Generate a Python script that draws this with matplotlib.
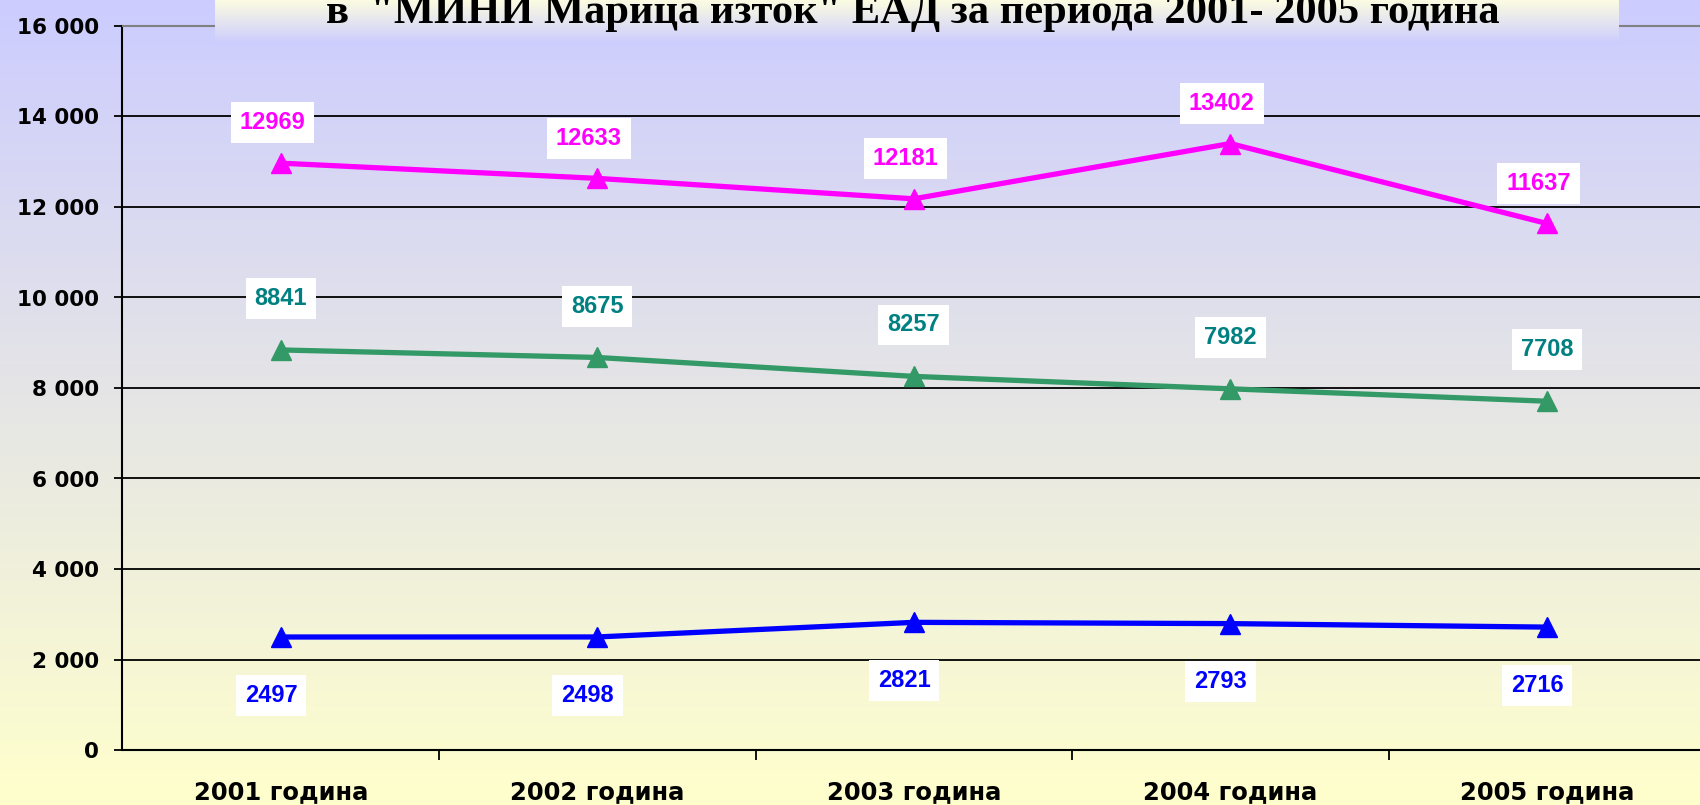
import numpy as np
import matplotlib.pyplot as plt
from matplotlib.ticker import FuncFormatter, FixedLocator

# данни от графиката
categories = ['2001 година', '2002 година', '2003 година', '2004 година', '2005 година']
series_top = [12969, 12633, 12181, 13402, 11637]
series_mid = [8841, 8675, 8257, 7982, 7708]
series_low = [2497, 2498, 2821, 2793, 2716]
y_ticks = [0, 2000, 4000, 6000, 8000, 10000, 12000, 14000, 16000]
title = 'в  "МИНИ Марица изток" ЕАД за периода 2001- 2005 година'

W, H = 1700, 805
fig = plt.figure(figsize=(W / 100, H / 100), dpi=100)

# фон - вертикален градиент
bg = fig.add_axes([0, 0, 1, 1], zorder=-10)
c_top = np.array([204, 204, 255]) / 255
c_bot = np.array([255, 255, 204]) / 255
t = np.linspace(0, 1, 256)[:, None]
grad = c_top * (1 - t) + c_bot * t
bg.imshow(grad[:, None, :], aspect='auto', extent=[0, 1, 0, 1])
bg.axis('off')

# основна графика
ax = fig.add_axes([122.5 / W, 55 / H, (1705 - 122.5) / W, 724 / H], zorder=1)
ax.set_facecolor('none')
x = np.arange(len(categories))

for yv in y_ticks[1:-1]:
    ax.axhline(yv, color='black', lw=1.3, zorder=1)

ax.plot(x, series_top, color='#FF00FF', lw=3.8, marker='^', ms=14, zorder=3)
ax.plot(x, series_mid, color='#339966', lw=3.8, marker='^', ms=14, zorder=3)
ax.plot(x, series_low, color='#0000FF', lw=3.8, marker='^', ms=14, zorder=3)

def add_labels(vals, color, dx, dy):
    for xi, v in zip(x, vals):
        ax.annotate(str(v), (xi, v), xytext=(dx, dy), textcoords='offset points',
                    ha='center', va='center', color=color, fontweight='bold',
                    fontsize=17, family='Liberation Sans', zorder=4,
                    bbox=dict(boxstyle='square,pad=0.38', fc='white', ec='none'))

add_labels(series_top, '#FF00FF', -6, 29)
add_labels(series_mid, '#008080', 0, 37)
add_labels(series_low, '#0000FF', -7, -42)

ax.set_xlim(-0.5, len(categories) - 0.5)
ax.set_ylim(y_ticks[0], y_ticks[-1])
ax.set_xticks(x)
ax.set_xticklabels(categories)
ax.xaxis.set_minor_locator(FixedLocator(x[:-1] + 0.5))
ax.tick_params(axis='x', which='major', length=0, pad=22)
ax.tick_params(axis='x', which='minor', length=7, width=1.3, direction='out')
ax.set_yticks(y_ticks)
ax.yaxis.set_major_formatter(FuncFormatter(lambda v, p: f'{int(v):,}'.replace(',', ' ')))
ax.tick_params(axis='y', length=6, width=1.3, direction='out', pad=11)
for lab in ax.get_xticklabels():
    lab.set_fontweight('bold')
    lab.set_fontsize(17.5)
    lab.set_family('DejaVu Sans')
for lab in ax.get_yticklabels():
    lab.set_fontweight('bold')
    lab.set_fontsize(15.5)
    lab.set_family('DejaVu Sans')

ax.spines['right'].set_visible(False)
ax.spines['top'].set_color('#808080')
ax.spines['top'].set_linewidth(1.5)
ax.spines['left'].set_linewidth(1.5)
ax.spines['bottom'].set_linewidth(1.5)

# заглавие в кутия с градиент
tb = fig.add_axes([215 / W, 1 - 44 / H, (1619 - 215) / W, 44 / H], zorder=5)
t2 = np.linspace(0, 1, 64)[:, None]
c1 = np.array([252, 252, 226]) / 255
grad2 = c1 * (1 - t2) + c_top * t2
tb.imshow(grad2[:, None, :], aspect='auto', extent=[0, 1, 0, 1])
tb.axis('off')

fig.text(913 / W, 1 - 23 / H, title, ha='center', va='baseline', fontsize=30.6,
         fontweight='bold', family='Liberation Serif', zorder=6)

fig.savefig('out.png', dpi=100)
